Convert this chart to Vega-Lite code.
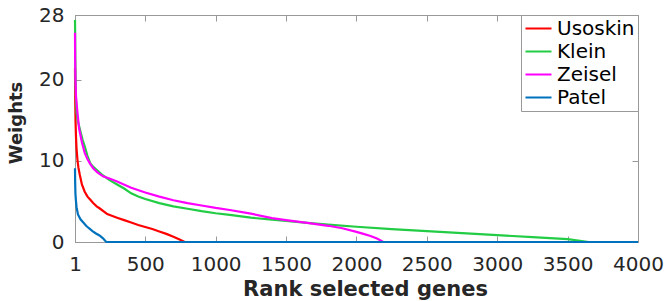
{
  "$schema": "https://vega.github.io/schema/vega-lite/v6.json",
  "width": 563,
  "height": 227,
  "autosize": {"type": "none"},
  "padding": {"left": 75, "top": 15, "right": 29, "bottom": 59},
  "background": "white",
  "config": {
    "view": {"stroke": "#999999", "strokeWidth": 1},
    "axis": {
      "labelFont": "DejaVu Sans",
      "labelFontSize": 20,
      "labelColor": "#262626",
      "titleFont": "DejaVu Sans",
      "titleFontWeight": "bold",
      "titleColor": "#262626",
      "domainColor": "#999999",
      "tickColor": "#999999",
      "grid": false,
      "labelFlush": false,
      "labelOverlap": false,
      "labelBound": false
    },
    "legend": {
      "labelFont": "DejaVu Sans",
      "labelFontSize": 20,
      "labelColor": "#000000"
    }
  },
  "data": {
    "values": [
      {"x": 1, "w": 21.5, "d": "Usoskin"}, {"x": 2, "w": 19, "d": "Usoskin"}, {"x": 3, "w": 17, "d": "Usoskin"},
      {"x": 5, "w": 14.8, "d": "Usoskin"}, {"x": 8, "w": 13, "d": "Usoskin"}, {"x": 12, "w": 11.5, "d": "Usoskin"},
      {"x": 18, "w": 10.2, "d": "Usoskin"}, {"x": 25, "w": 9.2, "d": "Usoskin"}, {"x": 35, "w": 8.3, "d": "Usoskin"},
      {"x": 50, "w": 7.1, "d": "Usoskin"}, {"x": 70, "w": 6.2, "d": "Usoskin"}, {"x": 90, "w": 5.6, "d": "Usoskin"},
      {"x": 110, "w": 5.2, "d": "Usoskin"}, {"x": 130, "w": 4.8, "d": "Usoskin"}, {"x": 155, "w": 4.4, "d": "Usoskin"},
      {"x": 180, "w": 4.1, "d": "Usoskin"}, {"x": 230, "w": 3.45, "d": "Usoskin"}, {"x": 300, "w": 3.0, "d": "Usoskin"},
      {"x": 350, "w": 2.7, "d": "Usoskin"}, {"x": 400, "w": 2.4, "d": "Usoskin"}, {"x": 450, "w": 2.1, "d": "Usoskin"},
      {"x": 500, "w": 1.85, "d": "Usoskin"}, {"x": 550, "w": 1.6, "d": "Usoskin"}, {"x": 600, "w": 1.3, "d": "Usoskin"},
      {"x": 650, "w": 1.0, "d": "Usoskin"}, {"x": 700, "w": 0.65, "d": "Usoskin"}, {"x": 740, "w": 0.35, "d": "Usoskin"},
      {"x": 780, "w": 0, "d": "Usoskin"},

      {"x": 1, "w": 27.4, "d": "Klein"}, {"x": 2, "w": 25.8, "d": "Klein"}, {"x": 3, "w": 23, "d": "Klein"},
      {"x": 5, "w": 20, "d": "Klein"}, {"x": 8, "w": 17.5, "d": "Klein"}, {"x": 12, "w": 16, "d": "Klein"},
      {"x": 20, "w": 15, "d": "Klein"}, {"x": 30, "w": 14.3, "d": "Klein"}, {"x": 40, "w": 13.6, "d": "Klein"},
      {"x": 55, "w": 12.6, "d": "Klein"}, {"x": 70, "w": 11.8, "d": "Klein"}, {"x": 90, "w": 10.6, "d": "Klein"},
      {"x": 110, "w": 9.7, "d": "Klein"}, {"x": 135, "w": 9.2, "d": "Klein"}, {"x": 160, "w": 8.8, "d": "Klein"},
      {"x": 200, "w": 8.2, "d": "Klein"}, {"x": 250, "w": 7.6, "d": "Klein"}, {"x": 300, "w": 7.1, "d": "Klein"},
      {"x": 350, "w": 6.6, "d": "Klein"}, {"x": 400, "w": 6.0, "d": "Klein"}, {"x": 450, "w": 5.6, "d": "Klein"},
      {"x": 500, "w": 5.3, "d": "Klein"}, {"x": 600, "w": 4.8, "d": "Klein"}, {"x": 700, "w": 4.4, "d": "Klein"},
      {"x": 800, "w": 4.1, "d": "Klein"}, {"x": 900, "w": 3.8, "d": "Klein"}, {"x": 1000, "w": 3.55, "d": "Klein"},
      {"x": 1100, "w": 3.35, "d": "Klein"}, {"x": 1250, "w": 3.0, "d": "Klein"}, {"x": 1400, "w": 2.75, "d": "Klein"},
      {"x": 1500, "w": 2.6, "d": "Klein"}, {"x": 1650, "w": 2.35, "d": "Klein"}, {"x": 1800, "w": 2.15, "d": "Klein"},
      {"x": 2000, "w": 1.88, "d": "Klein"}, {"x": 2250, "w": 1.6, "d": "Klein"}, {"x": 2500, "w": 1.35, "d": "Klein"},
      {"x": 2750, "w": 1.1, "d": "Klein"}, {"x": 3000, "w": 0.85, "d": "Klein"}, {"x": 3250, "w": 0.6, "d": "Klein"},
      {"x": 3500, "w": 0.35, "d": "Klein"}, {"x": 3650, "w": 0, "d": "Klein"},

      {"x": 1, "w": 25.8, "d": "Zeisel"}, {"x": 2, "w": 22.5, "d": "Zeisel"}, {"x": 4, "w": 20.3, "d": "Zeisel"},
      {"x": 8, "w": 18, "d": "Zeisel"}, {"x": 17, "w": 16.2, "d": "Zeisel"}, {"x": 30, "w": 14, "d": "Zeisel"},
      {"x": 50, "w": 12.3, "d": "Zeisel"}, {"x": 70, "w": 11, "d": "Zeisel"}, {"x": 90, "w": 10.2, "d": "Zeisel"},
      {"x": 110, "w": 9.6, "d": "Zeisel"}, {"x": 130, "w": 9.1, "d": "Zeisel"}, {"x": 160, "w": 8.6, "d": "Zeisel"},
      {"x": 200, "w": 8.1, "d": "Zeisel"}, {"x": 250, "w": 7.8, "d": "Zeisel"}, {"x": 300, "w": 7.45, "d": "Zeisel"},
      {"x": 400, "w": 6.7, "d": "Zeisel"}, {"x": 500, "w": 6.1, "d": "Zeisel"}, {"x": 600, "w": 5.6, "d": "Zeisel"},
      {"x": 700, "w": 5.15, "d": "Zeisel"}, {"x": 800, "w": 4.8, "d": "Zeisel"}, {"x": 900, "w": 4.5, "d": "Zeisel"},
      {"x": 1000, "w": 4.2, "d": "Zeisel"}, {"x": 1100, "w": 3.95, "d": "Zeisel"}, {"x": 1250, "w": 3.5, "d": "Zeisel"},
      {"x": 1400, "w": 2.95, "d": "Zeisel"}, {"x": 1500, "w": 2.7, "d": "Zeisel"}, {"x": 1650, "w": 2.35, "d": "Zeisel"},
      {"x": 1800, "w": 2.0, "d": "Zeisel"}, {"x": 1900, "w": 1.7, "d": "Zeisel"}, {"x": 2000, "w": 1.25, "d": "Zeisel"},
      {"x": 2050, "w": 1.0, "d": "Zeisel"}, {"x": 2100, "w": 0.75, "d": "Zeisel"}, {"x": 2150, "w": 0.4, "d": "Zeisel"},
      {"x": 2190, "w": 0, "d": "Zeisel"},

      {"x": 1, "w": 9.1, "d": "Patel"}, {"x": 2, "w": 7.5, "d": "Patel"}, {"x": 4, "w": 6, "d": "Patel"},
      {"x": 7, "w": 5.2, "d": "Patel"}, {"x": 12, "w": 4.3, "d": "Patel"}, {"x": 22, "w": 3.4, "d": "Patel"},
      {"x": 40, "w": 2.8, "d": "Patel"}, {"x": 60, "w": 2.4, "d": "Patel"}, {"x": 80, "w": 2.0, "d": "Patel"},
      {"x": 100, "w": 1.7, "d": "Patel"}, {"x": 125, "w": 1.35, "d": "Patel"}, {"x": 150, "w": 1.05, "d": "Patel"},
      {"x": 175, "w": 0.8, "d": "Patel"}, {"x": 200, "w": 0.45, "d": "Patel"}, {"x": 215, "w": 0.15, "d": "Patel"},
      {"x": 225, "w": 0, "d": "Patel"}, {"x": 4000, "w": 0, "d": "Patel"}
    ]
  },
  "layer": [
    {
      "mark": {"type": "line", "strokeWidth": 2.2},
      "encoding": {
        "x": {
          "field": "x", "type": "quantitative",
          "scale": {"domain": [1, 4000], "nice": false, "zero": false},
          "axis": {
            "values": [1, 500, 1000, 1500, 2000, 2500, 3000, 3500, 4000],
            "format": "d",
            "tickSize": -6, "labelPadding": 18,
            "title": "Rank selected genes", "titleFontSize": 21,
            "titleBaseline": "alphabetic", "titleAlign": "center", "titleX": 290, "titleY": 53
          }
        },
        "y": {
          "field": "w", "type": "quantitative",
          "scale": {"domain": [0, 28], "nice": false},
          "axis": {
            "values": [0, 10, 20, 28],
            "format": "d",
            "tickSize": -6, "labelPadding": 17,
            "title": "Weights", "titleFontSize": 18, "titleAngle": 270,
            "titleBaseline": "alphabetic", "titleAlign": "center", "titleX": -53.5, "titleY": 107.5
          }
        },
        "color": {
          "field": "d", "type": "nominal",
          "scale": {"domain": ["Usoskin", "Klein", "Zeisel", "Patel"], "range": ["#FF0000", "#22CC44", "#FF00FF", "#0072BD"]},
          "legend": {
            "title": null, "orient": "top-right", "offset": 0, "padding": 3,
            "strokeColor": "#999999", "fillColor": "white",
            "symbolType": "stroke", "symbolSize": 676, "symbolStrokeWidth": 2.2,
            "clipHeight": 21, "rowPadding": 2, "labelOffset": 4
          }
        }
      }
    },
    {
      "mark": {"type": "line", "opacity": 0},
      "encoding": {
        "x": {"field": "x", "type": "quantitative", "axis": {"orient": "top", "values": [1, 500, 1000, 1500, 2000, 2500, 3000, 3500, 4000], "labels": false, "title": null, "tickSize": -6}},
        "y": {"field": "w", "type": "quantitative", "axis": {"orient": "right", "values": [0, 10, 20, 28], "labels": false, "title": null, "tickSize": -6}},
        "detail": {"field": "d"}
      }
    }
  ],
  "resolve": {"axis": {"x": "independent", "y": "independent"}}
}
